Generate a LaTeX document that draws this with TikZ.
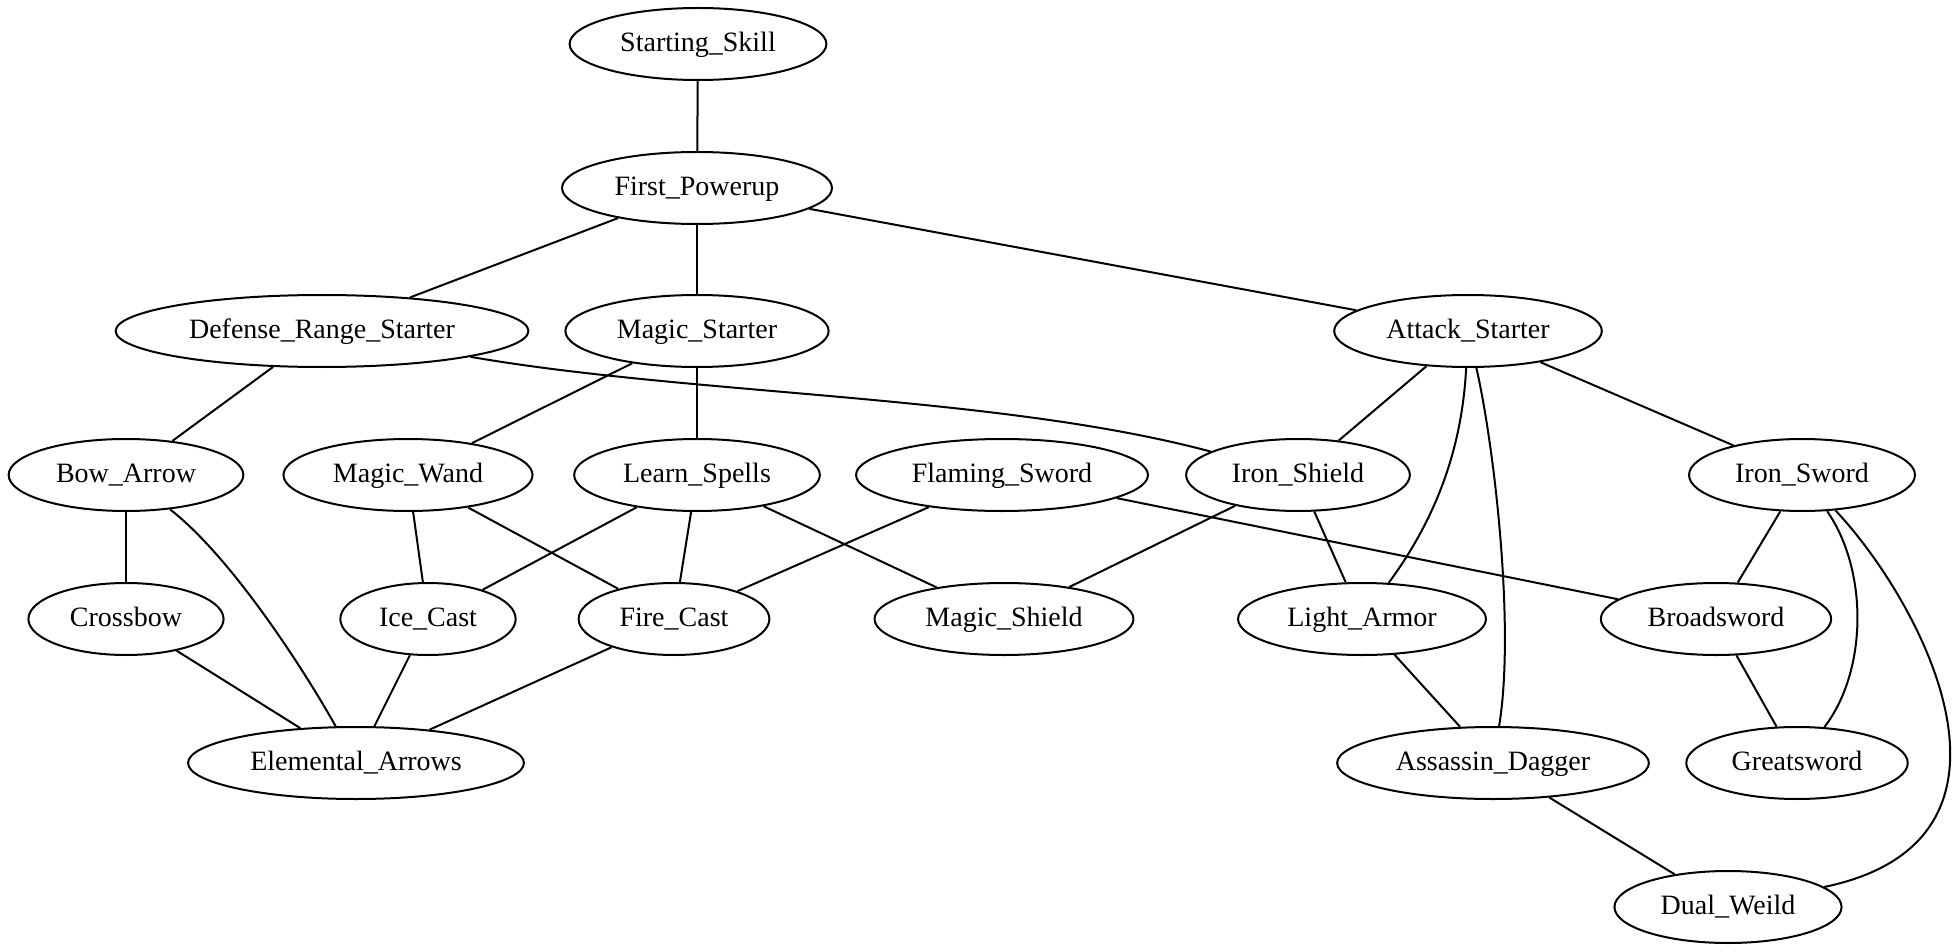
\documentclass[tikz,border=0pt]{standalone}
\usepackage{fontspec}
\setmainfont{Liberation Serif}
\usepackage{tikz}
\usetikzlibrary{shapes.geometric}

\begin{document}
\begin{tikzpicture}[x=0.5pt,y=-0.5pt,
  skill/.style={draw,ellipse,line width=1pt,inner xsep=6.5pt,inner ysep=2pt,
    minimum height=36pt,text height=9.8pt,text depth=2.2pt,
    font=\fontsize{14}{16}\selectfont},
  link/.style={line width=1pt}]
  \useasboundingbox (0,0) rectangle (1954,952);

  % Root and first level
  \node[skill] (start) at (698,44) {Starting\_Skill};
  \node[skill] (powerup) at (697,188) {First\_Powerup};

  % Starter branches
  \node[skill] (defrange) at (322,331) {Defense\_Range\_Starter};
  \node[skill] (magic) at (697,331) {Magic\_Starter};
  \node[skill] (attack) at (1468,331) {Attack\_Starter};

  % Third rank
  \node[skill] (bow) at (126,475) {Bow\_Arrow};
  \node[skill] (wand) at (408,475) {Magic\_Wand};
  \node[skill] (spells) at (697,475) {Learn\_Spells};
  \node[skill] (flaming) at (1002,475) {Flaming\_Sword};
  \node[skill] (ishield) at (1298,475) {Iron\_Shield};
  \node[skill] (isword) at (1802,475) {Iron\_Sword};

  % Fourth rank
  \node[skill] (crossbow) at (126,619) {Crossbow};
  \node[skill] (ice) at (428,619) {Ice\_Cast};
  \node[skill] (fire) at (674,619) {Fire\_Cast};
  \node[skill] (mshield) at (1004,619) {Magic\_Shield};
  \node[skill] (larmor) at (1362,619) {Light\_Armor};
  \node[skill] (broad) at (1716,619) {Broadsword};

  % Last ranks
  \node[skill] (elemental) at (356,763) {Elemental\_Arrows};
  \node[skill] (dagger) at (1493,763) {Assassin\_Dagger};
  \node[skill] (great) at (1797,763) {Greatsword};
  \node[skill] (dual) at (1728,907) {Dual\_Weild};

  % Straight links
  \draw[link] (start) -- (powerup);
  \draw[link] (powerup) -- (defrange);
  \draw[link] (powerup) -- (magic);
  \draw[link] (powerup) -- (attack);
  \draw[link] (defrange) -- (bow);
  \draw[link] (magic) -- (wand);
  \draw[link] (magic) -- (spells);
  \draw[link] (attack) -- (ishield);
  \draw[link] (attack) -- (isword);
  \draw[link] (bow) -- (crossbow);
  \draw[link] (wand) -- (ice);
  \draw[link] (wand) -- (fire);
  \draw[link] (spells) -- (ice);
  \draw[link] (spells) -- (fire);
  \draw[link] (spells) -- (mshield);
  \draw[link] (flaming) -- (fire);
  \draw[link] (flaming) -- (broad);
  \draw[link] (ishield) -- (mshield);
  \draw[link] (ishield) -- (larmor);
  \draw[link] (isword) -- (broad);
  \draw[link] (crossbow) -- (elemental);
  \draw[link] (ice) -- (elemental);
  \draw[link] (fire) -- (elemental);
  \draw[link] (larmor) -- (dagger);
  \draw[link] (broad) -- (great);
  \draw[link] (dagger) -- (dual);

  % Curved links
  \draw[link] (defrange) .. controls (690,395) and (1000,395) .. (ishield);
  \draw[link] (attack) .. controls (1462,450) and (1435,520) .. (larmor);
  \draw[link] (attack) .. controls (1495,450) and (1515,630) .. (dagger);
  \draw[link] (bow) .. controls (235,560) and (310,680) .. (elemental);
  \draw[link] (isword) .. controls (1868,570) and (1868,670) .. (great);
  \draw[link] (isword) .. controls (1920,600) and (2050,840) .. (dual);

\end{tikzpicture}
\end{document}
